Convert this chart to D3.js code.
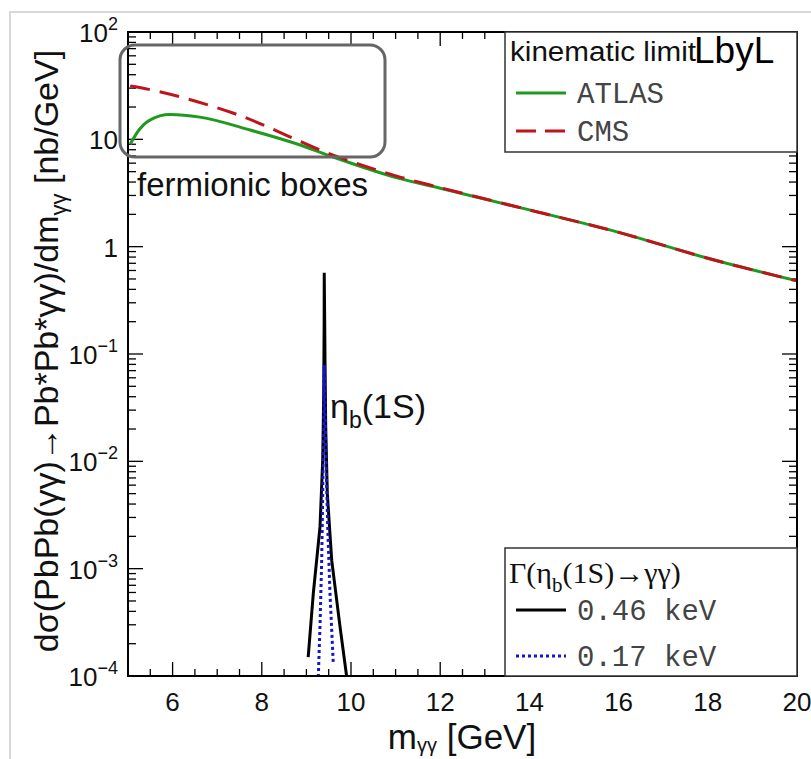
<!DOCTYPE html>
<html><head><meta charset="utf-8">
<script src="https://cdn.jsdelivr.net/npm/d3@7/dist/d3.min.js"></script>
<style>body{margin:0;background:#fff}svg{display:block}</style>
</head><body>
<svg id="c" width="811" height="759"></svg>
<script>
// ---- data ----
const xTicks = [6, 8, 10, 12, 14, 16, 18, 20];
const yTicks = [1e2, 1e1, 1, 1e-1, 1e-2, 1e-3, 1e-4];
const yTickLabels = [["10","2"],["10",""],["1",""],["10","−1"],["10","−2"],["10","−3"],["10","−4"]];
// ATLAS kinematic limit (fermionic boxes)
const atlasM = [5.05, 5.2, 5.49, 5.94, 6.61, 7.74, 8.86, 9.6, 11.1, 12, 14, 16, 18, 20];
const atlasV = [9.0, 11.5, 15.1, 17.0, 16.1, 12.2, 8.85, 6.84, 4.3, 3.5, 2.2, 1.36, 0.78, 0.48];
// CMS kinematic limit
const cmsM = [5.05, 5.2, 7.35, 9.6, 11.1, 12, 14, 16, 18, 20];
const cmsV = [31.5, 30.7, 17.6, 7.14, 4.45, 3.55, 2.2, 1.36, 0.78, 0.48];
// eta_b(1S) peak, Gamma = 0.46 keV
const eta046M = [9.04, 9.155, 9.305, 9.366, 9.388, 9.398, 9.40, 9.41, 9.417, 9.433, 9.469, 9.567, 9.753, 9.904];
const eta046V = [1.5e-4, 5.9e-4, 2.45e-3, 1.03e-2, 4.3e-2, 0.2, 0.57, 0.2, 0.088, 0.021, 5.0e-3, 1.2e-3, 2.9e-4, 9.8e-5];
// eta_b(1S) peak, Gamma = 0.17 keV
const eta017M = [9.267, 9.305, 9.343, 9.366, 9.388, 9.40, 9.417, 9.44, 9.478, 9.529, 9.603];
const eta017V = [9.8e-5, 2.9e-4, 1.2e-3, 5.0e-3, 2.1e-2, 0.079, 3.0e-2, 1.03e-2, 2.45e-3, 5.9e-4, 1.3e-4];

// ---- layout ----
const svg = d3.select("#c");
const L = 128, R = 797, T = 32, B = 676;
const x = d3.scaleLinear().domain([5, 20]).range([L, R]);
const y = d3.scaleLog().domain([1e-4, 1e2]).range([B, T]);
const sans = "'Liberation Sans', Arial, Helvetica, sans-serif";
const mono = "'Liberation Mono', 'Courier New', monospace";
const serif = "'Liberation Serif', 'Times New Roman', serif";

// outer light frame
svg.append("path").attr("d", `M10,759 L10,12 L811,12`).attr("fill","none")
  .attr("stroke","#d8d8d8").attr("stroke-width",2);

svg.append("defs").append("clipPath").attr("id","clip")
  .append("rect").attr("x",L).attr("y",T).attr("width",R-L).attr("height",B-T);

const g = svg.append("g");

// ticks
const xMinor = d3.range(5, 20.01, 0.5);
const tickG = g.append("g").attr("stroke","#000").attr("stroke-width",1.3);
xMinor.forEach(v => {
  const major = Math.abs(v % 2) < 1e-9;
  const len = major ? 14 : 7;
  tickG.append("line").attr("x1",x(v)).attr("x2",x(v)).attr("y1",B).attr("y2",B-len);
  tickG.append("line").attr("x1",x(v)).attr("x2",x(v)).attr("y1",T).attr("y2",T+len);
});
for (let e = -4; e < 2; e++) {
  for (let k = 1; k <= 9; k++) {
    const v = k * Math.pow(10, e);
    const len = k === 1 ? 15 : 8;
    tickG.append("line").attr("x1",L).attr("x2",L+len).attr("y1",y(v)).attr("y2",y(v));
    tickG.append("line").attr("x1",R).attr("x2",R-len).attr("y1",y(v)).attr("y2",y(v));
  }
}

// x tick labels
g.selectAll(".xl").data(xTicks).join("text")
  .attr("x", d => x(d)).attr("y", 711).attr("text-anchor","middle")
  .attr("font-family", sans).attr("font-size", 26).attr("fill","#111")
  .text(d => d);

// y tick labels
yTicks.forEach((v, i) => {
  const t = g.append("text").attr("x", 118).attr("y", y(v) + 10)
    .attr("text-anchor","end").attr("font-family", sans).attr("font-size", 26).attr("fill","#111");
  t.append("tspan").text(yTickLabels[i][0]);
  if (yTickLabels[i][1]) t.append("tspan").attr("dy",-12).attr("font-size",18).text(yTickLabels[i][1]);
});

// curves
const plot = g.append("g").attr("clip-path","url(#clip)");
const line = d3.line().x(d => x(d[0])).y(d => y(d[1])).curve(d3.curveMonotoneX);
const z = (a, b) => a.map((m, i) => [m, b[i]]);
plot.append("path").attr("d", line(z(atlasM, atlasV)))
  .attr("fill","none").attr("stroke","#1f9a1f").attr("stroke-width",3);
plot.append("path").attr("d", line(z(cmsM, cmsV)))
  .attr("fill","none").attr("stroke","#c0141c").attr("stroke-width",3).attr("stroke-dasharray","20,10");
const lin = d3.line().x(d => x(d[0])).y(d => y(d[1]));
plot.append("path").attr("d", lin(z(eta046M, eta046V)))
  .attr("fill","none").attr("stroke","#000").attr("stroke-width",3);
plot.append("path").attr("d", lin(z(eta017M, eta017V)))
  .attr("fill","none").attr("stroke","#1515d0").attr("stroke-width",3).attr("stroke-dasharray","3,3");

// plot frame
g.append("rect").attr("x",L).attr("y",T).attr("width",R-L).attr("height",B-T)
  .attr("fill","none").attr("stroke","#000").attr("stroke-width",2);

// top-right legend
const lg1 = g.append("g");
lg1.append("rect").attr("x",505).attr("y",T).attr("width",R-505).attr("height",120)
  .attr("fill","#fff").attr("stroke","#333").attr("stroke-width",1.5);
lg1.append("text").attr("x",510).attr("y",61).attr("font-family",sans).attr("font-size",27)
  .attr("textLength",186).attr("lengthAdjust","spacingAndGlyphs")
  .attr("fill","#111").text("kinematic limit");
lg1.append("text").attr("x",694).attr("y",63).attr("font-family",sans).attr("font-size",37)
  .attr("fill","#000").text("LbyL");
lg1.append("line").attr("x1",516).attr("x2",566).attr("y1",93).attr("y2",93)
  .attr("stroke","#1f9a1f").attr("stroke-width",3);
lg1.append("text").attr("x",577).attr("y",103).attr("font-family",mono)
  .attr("font-size",29).attr("fill","#444").text("ATLAS");
lg1.append("line").attr("x1",516).attr("x2",566).attr("y1",131).attr("y2",131)
  .attr("stroke","#c0141c").attr("stroke-width",3).attr("stroke-dasharray","20,9");
lg1.append("text").attr("x",577).attr("y",141).attr("font-family",mono)
  .attr("font-size",29).attr("fill","#444").text("CMS");

// bottom-right legend
const lg2 = g.append("g");
lg2.append("rect").attr("x",505).attr("y",548).attr("width",R-505).attr("height",B-548)
  .attr("fill","#fff").attr("stroke","#333").attr("stroke-width",1.5);
const gt = lg2.append("text").attr("x",509).attr("y",583).attr("font-family",serif)
  .attr("font-size",30).attr("fill","#111");
gt.append("tspan").text("Γ(η");
gt.append("tspan").attr("dy",9).attr("font-size",21).text("b");
gt.append("tspan").attr("dy",-9).text("(1S)→γγ)");
lg2.append("line").attr("x1",516).attr("x2",566).attr("y1",610).attr("y2",610)
  .attr("stroke","#000").attr("stroke-width",3);
lg2.append("text").attr("x",577).attr("y",620).attr("font-family",mono)
  .attr("font-size",29).attr("fill","#444").text("0.46 keV");
lg2.append("line").attr("x1",516).attr("x2",566).attr("y1",656).attr("y2",656)
  .attr("stroke","#1515d0").attr("stroke-width",3).attr("stroke-dasharray","3,3");
lg2.append("text").attr("x",577).attr("y",666).attr("font-family",mono)
  .attr("font-size",29).attr("fill","#444").text("0.17 keV");

// annotations
g.append("rect").attr("x",120).attr("y",45).attr("width",265).attr("height",112).attr("rx",15)
  .attr("fill","none").attr("stroke","#666").attr("stroke-width",3);
g.append("text").attr("x",137).attr("y",196).attr("font-family",sans).attr("font-size",33)
  .attr("fill","#111").text("fermionic boxes");
const eb = g.append("text").attr("x",330).attr("y",418).attr("font-family",sans).attr("font-size",34).attr("fill","#111");
eb.append("tspan").text("η");
eb.append("tspan").attr("dy",10).attr("font-size",23).text("b");
eb.append("tspan").attr("dy",-10).text("(1S)");

// axis titles
const xt = g.append("text").attr("x",462).attr("y",749).attr("text-anchor","middle")
  .attr("font-family",sans).attr("font-size",35).attr("fill","#111");
xt.append("tspan").text("m");
xt.append("tspan").attr("dy",3).attr("font-size",20).text("γγ");
xt.append("tspan").attr("dy",-3).text(" [GeV]");

const yt = g.append("text").attr("transform","translate(58,351) rotate(-90)").attr("text-anchor","middle")
  .attr("font-family",sans).attr("font-size",34).attr("fill","#111");
yt.append("tspan").text("dσ(PbPb(γγ)→Pb*Pb*γγ)/dm");
yt.append("tspan").attr("dy",8).attr("font-size",22).text("γγ");
yt.append("tspan").attr("dy",-8).text(" [nb/GeV]");
</script>
</body></html>
